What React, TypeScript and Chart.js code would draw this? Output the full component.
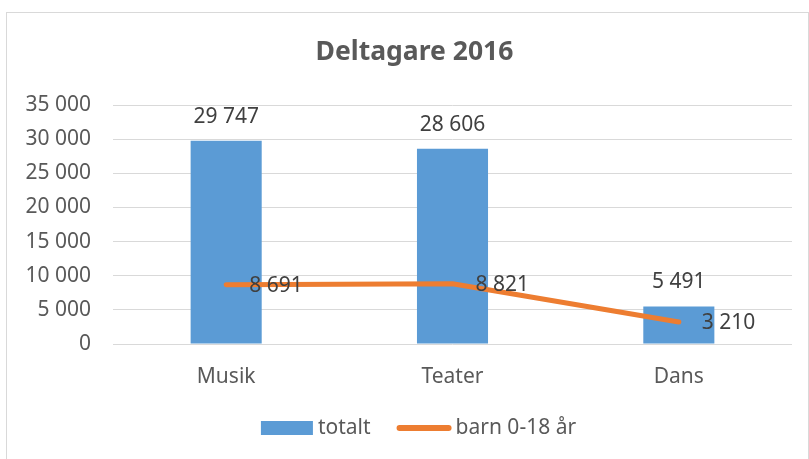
import React, { useEffect, useRef } from "react";
import { Chart, registerables } from "chart.js";

Chart.register(...registerables);

const categories = ["Musik", "Teater", "Dans"];
const totalt = [29747, 28606, 5491];
const barn = [8691, 8821, 3210];
const seriesNames = ["totalt", "barn 0-18 år"];
const titleText = "Deltagare 2016";

const FONT = "'Noto Sans', 'Open Sans', sans-serif";
const BLUE = "#5B9BD5";
const ORANGE = "#ED7D31";
const GRAY_TEXT = "#595959";
const LABEL_TEXT = "#404040";
const GRID = "#D9D9D9";

const fmt = (v: number) => String(Math.round(v)).replace(/\B(?=(\d{3})+(?!\d))/g, " ");

const borderPlugin = {
  id: "frameBorder",
  beforeDraw(chart: any) {
    const ctx = chart.ctx;
    ctx.save();
    ctx.fillStyle = "#FFFFFF";
    ctx.fillRect(0, 0, chart.width, chart.height);
    ctx.strokeStyle = GRID;
    ctx.lineWidth = 1;
    ctx.strokeRect(6.5, 12.5, 802, 700);
    ctx.restore();
  },
};

const titlePlugin = {
  id: "customTitle",
  afterDraw(chart: any) {
    const ctx = chart.ctx;
    ctx.save();
    ctx.font = `bold 26.5px ${FONT}`;
    ctx.fillStyle = GRAY_TEXT;
    ctx.textAlign = "center";
    ctx.textBaseline = "middle";
    ctx.fillText(titleText, chart.width / 2 + 10, 52);
    ctx.restore();
  },
};

const labelPlugin = {
  id: "valueLabels",
  afterDatasetsDraw(chart: any) {
    const ctx = chart.ctx;
    ctx.save();
    ctx.font = `21px ${FONT}`;
    ctx.fillStyle = LABEL_TEXT;
    ctx.textBaseline = "middle";
    chart.data.datasets.forEach((ds: any, di: number) => {
      const meta = chart.getDatasetMeta(di);
      meta.data.forEach((el: any, i: number) => {
        const v = ds.data[i] as number;
        if (meta.type === "bar") {
          ctx.textAlign = "center";
          ctx.fillText(fmt(v), el.x, el.y - 24);
        } else {
          ctx.textAlign = "left";
          ctx.fillText(fmt(v), el.x + 23, el.y + 1);
        }
      });
    });
    ctx.restore();
  },
};

const legendPlugin = {
  id: "customLegend",
  afterDraw(chart: any) {
    const ctx = chart.ctx;
    ctx.save();
    ctx.font = `21px ${FONT}`;
    ctx.textBaseline = "middle";
    ctx.textAlign = "left";
    const w1 = ctx.measureText(seriesNames[0]).width;
    const w2 = ctx.measureText(seriesNames[1]).width;
    const total = 52 + 5 + w1 + 26 + 55 + 4 + w2;
    const cy = 428;
    let x = chart.width / 2 + 14 - total / 2;
    ctx.fillStyle = BLUE;
    ctx.fillRect(x, cy - 7, 52, 14);
    x += 57;
    ctx.fillStyle = GRAY_TEXT;
    ctx.fillText(seriesNames[0], x, cy);
    x += w1 + 26;
    ctx.strokeStyle = ORANGE;
    ctx.lineWidth = 6;
    ctx.lineCap = "round";
    ctx.beginPath();
    ctx.moveTo(x + 3, cy);
    ctx.lineTo(x + 52, cy);
    ctx.stroke();
    x += 59;
    ctx.fillText(seriesNames[1], x, cy);
    ctx.restore();
  },
};

export default function App() {
  const ref = useRef<HTMLCanvasElement | null>(null);
  useEffect(() => {
    if (!ref.current) return;
    const chart = new Chart(ref.current, {
      type: "bar",
      data: {
        labels: categories,
        datasets: [
          {
            type: "line",
            label: seriesNames[1],
            data: barn,
            borderColor: ORANGE,
            backgroundColor: ORANGE,
            borderWidth: 5,
            pointRadius: 0,
            pointHoverRadius: 0,
            borderCapStyle: "round",
            borderJoinStyle: "round",
            tension: 0,
            order: 0,
          } as any,
          {
            type: "bar",
            label: seriesNames[0],
            data: totalt,
            backgroundColor: BLUE,
            borderWidth: 0,
            barPercentage: 0.314,
            categoryPercentage: 1,
            order: 1,
          },
        ],
      },
      options: {
        responsive: false,
        animation: false,
        layout: { padding: { left: 0, right: 17, top: 105, bottom: 60 } },
        plugins: {
          legend: { display: false },
          tooltip: { enabled: false },
          title: { display: false },
        },
        scales: {
          x: {
            grid: { display: false, drawTicks: false },
            border: { display: false },
            ticks: { color: GRAY_TEXT, font: { family: FONT, size: 21 }, padding: 20 },
            afterFit: (s: any) => { s.height = 55; },
          },
          y: {
            min: 0,
            max: 35000,
            grid: { color: GRID, lineWidth: 1, drawTicks: false },
            border: { display: false },
            ticks: {
              stepSize: 5000,
              color: GRAY_TEXT,
              font: { family: FONT, size: 21 },
              padding: 22,
              callback: (v: any) => fmt(Number(v)),
            },
            afterFit: (s: any) => { s.width = 113; },
          },
        },
      },
      plugins: [borderPlugin, titlePlugin, labelPlugin, legendPlugin],
    });
    return () => chart.destroy();
  }, []);
  return (
    <div style={{ position: "fixed", left: 0, top: 0, width: 809, height: 459 }}>
      <canvas ref={ref} width={809} height={459} />
    </div>
  );
}
